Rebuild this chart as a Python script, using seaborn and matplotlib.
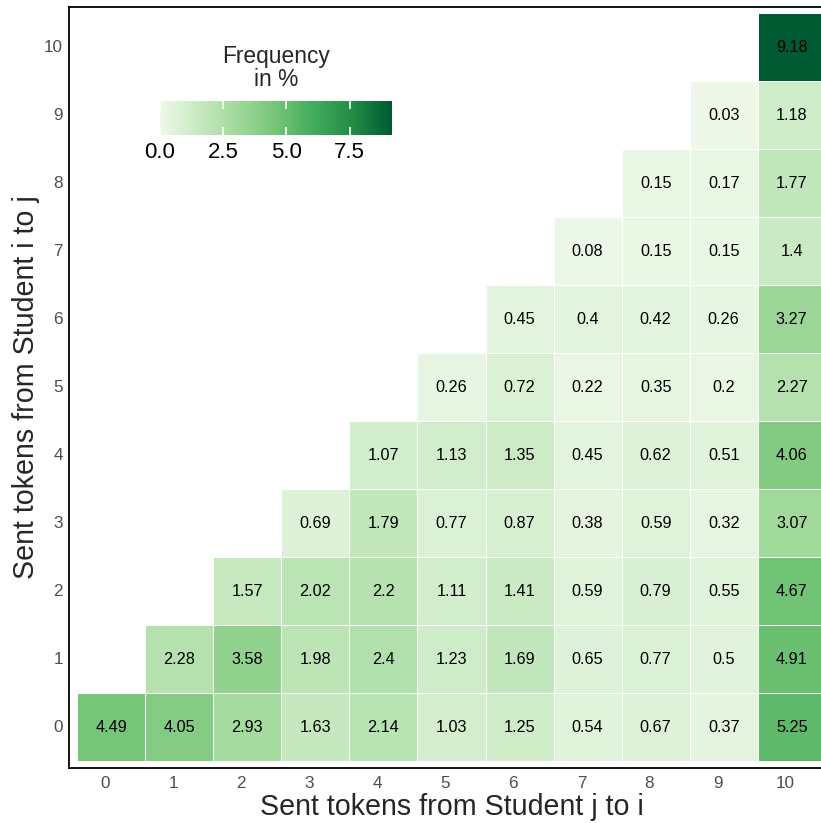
import numpy as np
import pandas as pd
import matplotlib
matplotlib.use("Agg")
import matplotlib.pyplot as plt
from matplotlib.colors import LinearSegmentedColormap
import seaborn as sns

# Tokens sent from student j to i (columns) and from i to j (rows)
tokens = list(range(11))

# Frequencies in %, one list per row (i -> j), starting at column == row
row_0 = [4.49, 4.05, 2.93, 1.63, 2.14, 1.03, 1.25, 0.54, 0.67, 0.37, 5.25]
row_1 = [2.28, 3.58, 1.98, 2.4, 1.23, 1.69, 0.65, 0.77, 0.5, 4.91]
row_2 = [1.57, 2.02, 2.2, 1.11, 1.41, 0.59, 0.79, 0.55, 4.67]
row_3 = [0.69, 1.79, 0.77, 0.87, 0.38, 0.59, 0.32, 3.07]
row_4 = [1.07, 1.13, 1.35, 0.45, 0.62, 0.51, 4.06]
row_5 = [0.26, 0.72, 0.22, 0.35, 0.2, 2.27]
row_6 = [0.45, 0.4, 0.42, 0.26, 3.27]
row_7 = [0.08, 0.15, 0.15, 1.4]
row_8 = [0.15, 0.17, 1.77]
row_9 = [0.03, 1.18]
row_10 = [9.18]
rows = [row_0, row_1, row_2, row_3, row_4, row_5, row_6, row_7, row_8, row_9, row_10]

colorbar_ticks = [0.0, 2.5, 5.0, 7.5]

# Build the upper-triangular frequency matrix
n = len(tokens)
mat = np.full((n, n), np.nan)
for i, vals in enumerate(rows):
    mat[i, i:i + len(vals)] = vals
freq = pd.DataFrame(mat, index=tokens, columns=tokens)
labels = freq.apply(lambda col: col.map(lambda v: "" if np.isnan(v) else format(v, "g")))

greens = ["#EDF8E9", "#C7E9C0", "#A1D99B", "#74C476", "#41AB5D", "#238B45", "#005A32"]
cmap = LinearSegmentedColormap.from_list("greens7", greens)

sns.set_style("white")
plt.rcParams["font.family"] = ["Liberation Sans", "DejaVu Sans"]

fig = plt.figure(figsize=(8.21, 8.23), dpi=100)
ax = fig.add_axes([69 / 821, 55 / 823, 765 / 821, 761 / 823])

sns.heatmap(
    freq, ax=ax, mask=freq.isna(), cmap=cmap, vmin=0, vmax=np.nanmax(mat),
    annot=labels.values, fmt="", annot_kws={"fontsize": 11.7, "color": "black"},
    linewidths=0.7, linecolor="white", cbar=False, square=False,
)

ax.set_xlim(-0.12, 11.12)
ax.set_ylim(-0.1, 11.09)
ax.set_xticks(np.arange(n) + 0.5 - 0.09)
ax.set_xticklabels([str(t) for t in tokens], rotation=0)
ax.set_yticks(np.arange(n) + 0.5)
ax.set_yticklabels([str(t) for t in tokens], rotation=0)
ax.tick_params(axis="both", length=0, labelsize=12.3, labelcolor="#4d4d4d")
ax.tick_params(axis="x", pad=5.5)
ax.tick_params(axis="y", pad=4.3)
ax.set_xlabel("")
ax.set_ylabel("")
for side in ["left", "bottom", "top", "right"]:
    ax.spines[side].set_visible(True)
    ax.spines[side].set_color("black")
    ax.spines[side].set_linewidth(1.3)

fig.text(451.5 / 821, 8 / 823, "Sent tokens from Student j to i",
         ha="center", va="baseline", fontsize=20.6)
fig.text(26 / 821, 1 - 387.5 / 823, "Sent tokens from Student i to j",
         ha="center", va="center", rotation=90, fontsize=20.6)

# Horizontal colour guide inside the panel
cax = fig.add_axes([160 / 821, 1 - 135 / 823, 232 / 821, 34 / 823])
cb = fig.colorbar(ax.collections[0], cax=cax, orientation="horizontal")
cb.outline.set_visible(False)
cb.set_ticks(colorbar_ticks)
cb.set_ticklabels([f"{t:.1f}" for t in colorbar_ticks])
cax.set_axisbelow(False)
cax.tick_params(axis="x", which="major", direction="in", color="white", length=6,
                width=1.2, top=True, bottom=True, labelsize=16,
                labelcolor="black", pad=5)
cax.minorticks_off()
fig.text(276 / 821, 1 - 68 / 823, "Frequency\nin %", ha="center", va="center",
         fontsize=16.4, linespacing=1.05)

fig.savefig("out.png", dpi=100)
